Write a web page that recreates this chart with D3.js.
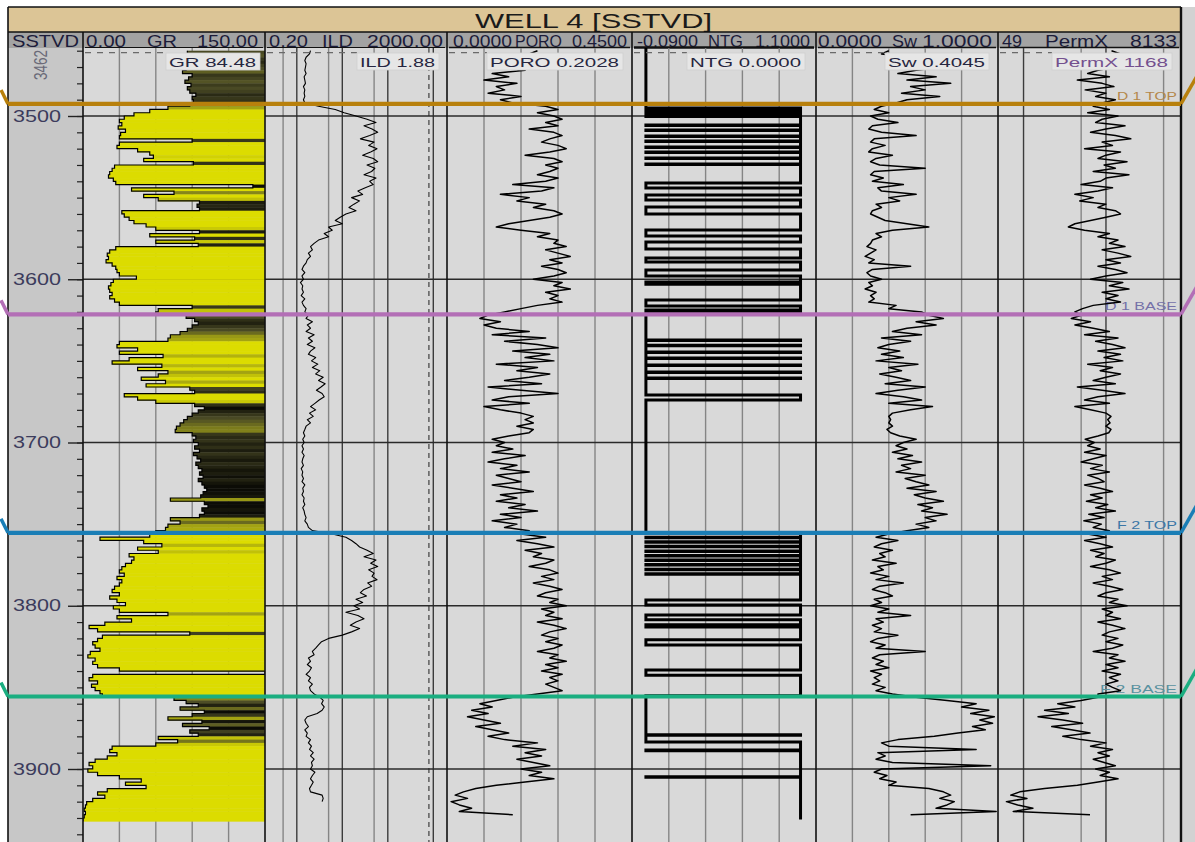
<!DOCTYPE html>
<html>
<head>
<meta charset="utf-8">
<script src="https://cdn.jsdelivr.net/npm/d3@7"></script>
<style>
  body { margin: 0; background: #fff; }
  svg { display: block; font-family: Arial, "Liberation Sans", sans-serif; }
</style>
</head>
<body>
<svg id="chart"></svg>
<script>
// ---- data ----
const title = "WELL 4 [SSTVD]";
const depthTicks = [3500, 3600, 3700, 3800, 3900];
const topDepthLabel = "3462";

// GR, every 2 m from 3460
const grStart = 3460, grStep = 2;
const grValues = [
  86, 84, 90, 93, 88, 85, 82, 90, 87, 84, 89, 86, 88, 93, 90, 91,
  88, 70, 55, 42, 34, 30, 32, 29, 35, 31, 30, 90, 30, 28, 45, 55,
  58, 50, 91, 26, 24, 22, 21, 25, 27, 140, 40, 75, 50, 62, 96, 94,
  96, 32, 34, 38, 42, 52, 60, 96, 55, 92, 60, 95, 27, 22, 20, 21,
  19, 24, 27, 28, 30, 44, 25, 23, 21, 22, 24, 22, 26, 30, 90, 62,
  60, 85, 92, 95, 90, 86, 80, 72, 70, 30, 28, 45, 30, 66, 38, 24,
  65, 45, 70, 62, 48, 68, 52, 88, 92, 34, 45, 60, 92, 100, 95, 90,
  86, 83, 80, 77, 76, 90, 93, 91, 95, 92, 96, 91, 94, 97, 93, 95,
  98, 96, 99, 95, 98, 100, 102, 99, 97, 72, 100, 103, 98, 100, 96, 72,
  80, 70, 68, 60, 55, 14, 50, 65, 45, 62, 38, 42, 40, 35, 32, 30,
  34, 28, 32, 30, 26, 24, 30, 22, 28, 35, 25, 30, 70, 28, 40, 18,
  5, 12, 88, 16, 12, 8, 10, 14, 6, 4, 10, 8, 12, 30, 150, 8,
  5, 12, 7, 10, 14, 16, 75, 85, 95, 80, 100, 90, 70, 98, 82, 104,
  88, 95, 62, 78, 60, 24, 22, 28, 20, 10, 5, 8, 4, 12, 30, 48,
  35, 52, 20, 12, 18, 8, 3, 2, 1, 2, 1, 0
];

// ILD, every 2 m from 3460
const ildStart = 3460, ildStep = 2;
const ildValues = [
  2.0, 1.9, 1.6, 1.5, 1.6, 1.55, 1.5, 1.6, 1.45, 1.5, 1.55, 1.4, 1.5, 1.45, 1.5, 1.4, 1.5,
  3, 7, 11,
  20, 35, 55, 30, 45, 60, 40, 25, 50, 38, 58, 42, 28, 48, 60, 35, 52, 44, 30, 55, 40, 48, 32,
  22, 28, 16, 24, 18, 14, 20, 12,
  9, 7, 10, 5, 6, 4, 5, 3,
  2.4, 2.0, 2.2, 1.8, 2.0, 1.7, 1.6,
  1.4, 1.3, 1.5, 1.3, 1.4, 1.2, 1.35, 1.3, 1.4, 1.25, 1.5, 1.3, 1.4, 1.6, 1.5,
  1.8, 1.6, 2.2, 1.7, 2.0, 1.6, 2.4, 1.8, 2.2, 1.7, 2.5, 2.0, 1.8, 2.6, 2.1, 2.9, 2.2, 3.2,
  2.6, 3.8, 3.0, 4.2, 3.4, 2.7, 3.6, 4.0, 3.1, 2.5, 2.0, 2.6, 1.9, 2.3, 1.7, 2.0, 1.6,
  1.5, 1.4, 1.5, 1.35, 1.45, 1.3, 1.4, 1.3, 1.45, 1.35, 1.3, 1.4, 1.25, 1.35, 1.3, 1.4,
  1.3, 1.5, 1.35, 1.4, 1.3, 1.45, 1.4, 1.5, 1.35, 1.45, 1.5, 1.6, 1.5, 1.7, 1.8, 2.2,
  6, 12, 16, 20, 24,
  35, 48, 30, 55, 42, 60, 38, 50, 45, 58, 36, 44, 30,
  25, 34, 20, 28, 18, 24, 12, 22, 30, 20, 15, 24, 16, 10,
  5, 3.5, 3.0, 2.6, 2.2, 2.4,
  1.8, 2.0, 1.7, 2.1, 1.9, 1.6, 2.0, 1.8, 2.2, 1.9, 2.0, 2.4,
  3.2, 3.8, 3.5, 4.0, 3.6, 2.8,
  1.7, 1.5, 1.6, 1.8, 1.5, 1.7, 1.6, 2.0, 1.8, 2.1, 1.9, 2.3, 2.0, 2.4, 2.1, 2.2, 2.0, 2.5,
  2.2, 2.0, 2.3, 2.1,
  1.9, 2.0, 3.6, 3.8, 3.6
];

// PORO, Sw, PermX, every 2 m from 3460
const logStart = 3460, logStep = 2;
const poroValues = [
  0.22, 0.20, 0.14, 0.10, 0.16, 0.12, 0.19, 0.11, 0.15, 0.09, 0.17, 0.12, 0.14, 0.10, 0.18, 0.13, 0.16,
  0.24, 0.27, 0.22, 0.26, 0.28, 0.24, 0.27, 0.20, 0.26, 0.28, 0.25, 0.23, 0.27, 0.29, 0.25, 0.19,
  0.26, 0.28, 0.24, 0.27, 0.25, 0.22, 0.27, 0.24, 0.16, 0.26, 0.23, 0.13, 0.20, 0.17, 0.24,
  0.21, 0.26, 0.28, 0.25, 0.20, 0.15, 0.12, 0.18, 0.25, 0.22, 0.27,
  0.26, 0.29, 0.24, 0.27, 0.30, 0.25, 0.28, 0.23, 0.27, 0.29, 0.26, 0.21, 0.28, 0.26, 0.30, 0.24,
  0.27, 0.25, 0.28, 0.22, 0.18, 0.14,
  0.10, 0.08, 0.13, 0.09, 0.12, 0.20, 0.11, 0.24, 0.14, 0.22, 0.27, 0.16, 0.25, 0.19, 0.26, 0.12,
  0.22, 0.17, 0.25, 0.20, 0.14, 0.23, 0.10, 0.18, 0.27, 0.15, 0.11, 0.20, 0.09, 0.13,
  0.18, 0.21, 0.19, 0.21, 0.17, 0.21, 0.20, 0.15, 0.11, 0.14,
  0.12, 0.16, 0.11, 0.19, 0.14, 0.10, 0.17, 0.13, 0.20, 0.12, 0.15, 0.18, 0.11, 0.16, 0.21, 0.13,
  0.17, 0.12, 0.19, 0.15, 0.22, 0.13, 0.18, 0.11, 0.17, 0.14, 0.20,
  0.18, 0.24, 0.17, 0.22, 0.26, 0.19, 0.23, 0.21, 0.26, 0.24, 0.20, 0.25, 0.27, 0.23, 0.26, 0.21,
  0.25, 0.28, 0.24, 0.22, 0.27, 0.25, 0.29, 0.23, 0.26, 0.24, 0.28, 0.22, 0.26, 0.29, 0.25, 0.23,
  0.27, 0.24, 0.28, 0.26, 0.22, 0.27, 0.25, 0.29, 0.24, 0.27, 0.23, 0.28, 0.25, 0.27, 0.24, 0.26,
  0.28, 0.22,
  0.16, 0.12, 0.08, 0.11, 0.06, 0.10, 0.05, 0.09, 0.13, 0.07, 0.11, 0.15, 0.10,
  0.14, 0.22, 0.16, 0.24, 0.19, 0.23, 0.17, 0.21, 0.25, 0.18, 0.23, 0.20, 0.26, 0.19, 0.12,
  0.07, 0.04, 0.02, 0.05, 0.01, 0.03, 0.06, 0.03, 0.16
];
const swValues = [
  0.40, 0.36, 0.52, 0.62, 0.48, 0.70, 0.55, 0.45, 0.66, 0.50, 0.74, 0.52, 0.60, 0.47, 0.68, 0.50, 0.44,
  0.36, 0.32, 0.40, 0.30, 0.34, 0.45, 0.31, 0.29, 0.36, 0.55, 0.32, 0.30, 0.38, 0.31, 0.29, 0.42,
  0.33, 0.30, 0.35, 0.60, 0.32, 0.30, 0.37, 0.31, 0.48, 0.34, 0.36, 0.55, 0.40, 0.46, 0.33,
  0.36, 0.31, 0.30, 0.34, 0.38, 0.50, 0.62, 0.42, 0.33, 0.36, 0.31,
  0.30, 0.28, 0.33, 0.30, 0.27, 0.32, 0.29, 0.52, 0.31, 0.28, 0.30, 0.36, 0.29, 0.31, 0.27, 0.33,
  0.30, 0.32, 0.29, 0.44, 0.40, 0.58,
  0.62, 0.70, 0.55, 0.66, 0.50, 0.42, 0.58, 0.36, 0.52, 0.40, 0.34, 0.46, 0.36, 0.48, 0.33, 0.56,
  0.40, 0.47, 0.35, 0.44, 0.52, 0.38, 0.60, 0.45, 0.33, 0.48, 0.58, 0.40, 0.64, 0.52,
  0.42, 0.40, 0.41, 0.40, 0.42, 0.39, 0.41, 0.46, 0.55, 0.48,
  0.44, 0.50, 0.42, 0.53, 0.45, 0.58, 0.47, 0.52, 0.44, 0.60, 0.49, 0.55, 0.62, 0.50, 0.66, 0.54,
  0.60, 0.70, 0.56, 0.64, 0.58, 0.72, 0.60, 0.66, 0.55, 0.62, 0.50,
  0.40, 0.33, 0.45, 0.36, 0.32, 0.42, 0.35, 0.38, 0.31, 0.44, 0.34, 0.37, 0.30, 0.40, 0.33, 0.48,
  0.35, 0.31, 0.38, 0.42, 0.32, 0.36, 0.30, 0.40, 0.34, 0.52, 0.33, 0.37, 0.31, 0.36, 0.32, 0.45,
  0.34, 0.30, 0.38, 0.33, 0.60, 0.35, 0.31, 0.37, 0.33, 0.40, 0.30, 0.36, 0.32, 0.35, 0.31, 0.38,
  0.33, 0.42,
  0.55, 0.72, 0.88, 0.80, 0.95, 0.85, 0.98, 0.90, 0.97, 0.86, 0.93, 0.78, 0.65,
  0.45, 0.36, 0.40, 0.88, 0.34, 0.38, 0.33, 0.42, 0.96, 0.36, 0.32, 0.39, 0.35, 0.44, 0.40,
  0.62, 0.70, 0.74, 0.68, 0.76, 0.72, 0.66, 0.99, 0.52
];
const permValues = [
  1168, 1500, 700, 1000, 520, 1300, 800, 600, 1100, 450, 900, 1250, 560, 1000, 750, 1300, 900,
  700, 1100, 600, 1400, 900, 750, 1700, 1000, 650, 1300, 2000, 900, 1200, 550, 1500, 1000,
  800, 1800, 950, 1300, 700, 1900, 1000, 850, 500, 1200, 800, 420, 700, 480, 1000,
  800, 1300, 1500, 1000, 650, 420, 350, 550, 1100, 800, 1400,
  1100, 1700, 900, 1400, 2000, 1000, 1500, 800, 1300, 1800, 1000, 650, 1600, 1100, 1900, 900,
  1400, 1000, 1500, 700, 520, 420,
  500, 380, 650, 420, 700, 1100, 550, 1400, 750, 1200, 1700, 800, 1500, 950, 1600, 600,
  1200, 850, 1500, 1000, 700, 1300, 450, 900, 1700, 800, 550, 1100, 420, 650,
  1000, 1150, 1050, 1120, 1000, 1150, 1080, 800, 560, 720,
  600, 850, 550, 1000, 700, 500, 900, 650, 1100, 600, 800, 950, 550, 850, 1200, 650,
  900, 580, 1050, 750, 1300, 620, 950, 540, 880, 700, 1100,
  600, 1000, 550, 850, 1200, 650, 950, 750, 1300, 1000, 650, 1100, 1500, 900, 1200, 700,
  1100, 1600, 1000, 800, 1400, 1100, 1800, 900, 1200, 1000, 1500, 800, 1200, 1700, 1100, 900,
  1400, 1000, 1600, 1200, 700, 1400, 1100, 1700, 1000, 1400, 900, 1500, 1100, 1400, 1000, 1200,
  1500, 800,
  800, 500, 260, 420, 180, 350, 150, 300, 520, 220, 380, 640, 300,
  500, 1000, 650, 1200, 800, 1100, 700, 950, 1300, 750, 1100, 850, 1400, 800, 450,
  180, 90, 70, 110, 62, 85, 130, 75, 640
];

// NTG = 1 intervals (top, base); 0 elsewhere
const ntgStart = 3458, ntgEnd = 3931;
const ntgSand = [
  [3495.1, 3495.9], [3496.4, 3497.2], [3497.7, 3498.5], [3499, 3499.8], [3500.3, 3505.5],
  [3505.8, 3508.6], [3508.9, 3512.3], [3512.6, 3515.3], [3515.6, 3519], [3519.3, 3522.1],
  [3522.4, 3525.7], [3526, 3529.4], [3529.7, 3541], [3544.1, 3548.4], [3551.5, 3555.7],
  [3560, 3569.8], [3573.5, 3577.2], [3581.5, 3587], [3589.4, 3594.3], [3598, 3601.7],
  [3603, 3612.7], [3616.4, 3618.8], [3619.4, 3620.7],
  [3637.2, 3637.5], [3640.5, 3640.8], [3644.6, 3644.9], [3648.2, 3648.5], [3652.5, 3652.8],
  [3656.8, 3657.1], [3660.5, 3660.8], [3670.9, 3674],
  [3755.5, 3758], [3758.3, 3760.8], [3761.1, 3763.6], [3763.9, 3766.4], [3766.7, 3769.2],
  [3769.5, 3772], [3772.3, 3774.8], [3775.1, 3777.6], [3777.9, 3780.4], [3780.7, 3796.5],
  [3799.5, 3805.6], [3808.6, 3811.7], [3813, 3820.9], [3824, 3839.4], [3842.5, 3855.2],
  [3879, 3879.3], [3883.5, 3888.4], [3888.8, 3904.7], [3905.1, 3931]
];

// formation tops
const formations = [
  { name: "D 1 TOP",  depth: 3492.6, color: "#b8800c", text: "#b4874a", len: 60 },
  { name: "D 1 BASE", depth: 3621.5, color: "#b36fb6", text: "#7470a8", len: 72 },
  { name: "F 2 TOP",  depth: 3755.3, color: "#1a7eb6", text: "#3a76a6", len: 60 },
  { name: "F 2 BASE", depth: 3855.6, color: "#1aae80", text: "#5a92a0", len: 77 }
];

// header labels (left, name, right) and cursor readouts
const headers = [
  ["0.00", "GR", "150.00"],
  ["0.20", "ILD", "2000.00"],
  ["0.0000", "PORO", "0.4500"],
  ["-0.0900", "NTG", "1.1000"],
  ["0.0000", "Sw", "1.0000"],
  ["49", "PermX", "8133"]
];
const readouts = ["GR 84.48", "ILD 1.88", "PORO 0.2028", "NTG 0.0000", "Sw 0.4045", "PermX 1168"];
const cursorDepth = 3461.2;

// ---- layout ----
const W = 1195, H = 842;
const frameL = 8, frameR = 1181, titleTop = 7, headTop = 32, plotTop = 48;
const trackEdges = [83, 265, 447, 632, 816, 998, 1181];

const svg = d3.select("#chart").attr("width", W).attr("height", H);

const y = d3.scaleLinear().domain([3500, 3900]).range([116, 769]);

const xs = [
  d3.scaleLinear().domain([0, 150]).range([trackEdges[0], trackEdges[1]]),
  d3.scaleLog().domain([0.2, 2000]).range([trackEdges[1], trackEdges[2]]),
  d3.scaleLinear().domain([0, 0.45]).range([trackEdges[2], trackEdges[3]]),
  d3.scaleLinear().domain([-0.09, 1.1]).range([trackEdges[3], trackEdges[4]]),
  d3.scaleLinear().domain([0, 1]).range([trackEdges[4], trackEdges[5]]),
  d3.scaleLog().domain([49, 8133]).range([trackEdges[5], trackEdges[6]])
];
const curveWidths = [1.2, 1.1, 1.5, 3, 1.5, 1.5];

// backgrounds
svg.append("rect").attr("x", frameR).attr("y", titleTop).attr("width", W - frameR).attr("height", H)
  .attr("fill", "#d2d2d2");
svg.append("rect").attr("x", frameL).attr("y", plotTop).attr("width", trackEdges[0] - frameL)
  .attr("height", H - plotTop).attr("fill", "#c7c7c7");
svg.append("rect").attr("x", trackEdges[0]).attr("y", plotTop).attr("width", frameR - trackEdges[0])
  .attr("height", H - plotTop).attr("fill", "#d9d9d9");

// title band
svg.append("rect").attr("x", frameL).attr("y", titleTop).attr("width", frameR - frameL)
  .attr("height", headTop - titleTop).attr("fill", "#dcc596");
svg.append("text").attr("x", 475).attr("y", 28).attr("font-size", 21)
  .attr("textLength", 237).attr("lengthAdjust", "spacingAndGlyphs")
  .attr("fill", "#1a1a1a").text(title);

// header row
svg.append("rect").attr("x", frameL).attr("y", headTop).attr("width", frameR - frameL)
  .attr("height", plotTop - headTop).attr("fill", "#a3a3a3");

function fitText(g, x, yy, txt, len, size, color) {
  g.append("text").attr("x", x).attr("y", yy).attr("font-size", size)
    .attr("textLength", len).attr("lengthAdjust", "spacingAndGlyphs")
    .attr("fill", color).text(txt);
}
const head = svg.append("g");
fitText(head, 12, 46.5, "SSTVD", 67, 17, "#1c1c3a");
const headPos = [
  [[86, 40], [147, 30], [197, 61]],
  [[269, 39], [322, 31], [367, 76]],
  [[453, 59], [515, 47], [572, 55]],
  [[637, 61], [708, 35], [755, 55]],
  [[818, 64], [892, 25], [922, 70]],
  [[1002, 20], [1045, 63], [1130, 47]]
];
headers.forEach((h, i) => {
  h.forEach((t, j) => fitText(head, headPos[i][j][0], 46.5, t, headPos[i][j][1], 17, "#1c1c3a"));
  // underline in the curve style
  head.append("line").attr("x1", trackEdges[i] + 2).attr("x2", trackEdges[i + 1] - 2)
    .attr("y1", plotTop - 0.5).attr("y2", plotTop - 0.5)
    .attr("stroke", "#111").attr("stroke-width", Math.min(curveWidths[i], 2.5));
});

// grids
const grid = svg.append("g");
const gridSpec = [
  { light: d3.range(1, 5).map(k => k * 30), dark: [] },
  { light: [0.5, 5, 50], dark: [1, 10, 100, 1000] },
  { light: d3.range(1, 5).map(k => k * 0.09), dark: [] },
  { light: d3.range(1, 5).map(k => -0.09 + k * 0.238), dark: [] },
  { light: d3.range(1, 5).map(k => k * 0.2), dark: [] },
  { light: [500, 5000], dark: [100, 1000] }
];
gridSpec.forEach((s, i) => {
  s.light.forEach(v => grid.append("line").attr("x1", xs[i](v)).attr("x2", xs[i](v))
    .attr("y1", plotTop).attr("y2", H).attr("stroke", "#858585").attr("stroke-width", 1.4));
  s.dark.forEach(v => grid.append("line").attr("x1", xs[i](v)).attr("x2", xs[i](v))
    .attr("y1", plotTop).attr("y2", H).attr("stroke", "#3c3c3c").attr("stroke-width", 1.4));
});
// ILD cutoff (dashed)
grid.append("line").attr("x1", xs[1](800)).attr("x2", xs[1](800)).attr("y1", plotTop).attr("y2", H)
  .attr("stroke", "#555").attr("stroke-width", 1.4).attr("stroke-dasharray", "5,4");
depthTicks.forEach(d => grid.append("line").attr("x1", trackEdges[0]).attr("x2", frameR)
  .attr("y1", y(d)).attr("y2", y(d)).attr("stroke", "#2a2a2a").attr("stroke-width", 1.5));

// formation labels (under curves)
const fLabels = svg.append("g");
formations.forEach(f => {
  fLabels.append("text").attr("x", 1177).attr("y", y(f.depth) - 4).attr("text-anchor", "end")
    .attr("font-size", 11).attr("fill", f.text)
    .attr("textLength", f.len).attr("lengthAdjust", "spacingAndGlyphs")
    .text(f.name);
});

// depth track axis
const depthG = svg.append("g").attr("transform", `translate(${trackEdges[0]},0)`);
depthG.call(d3.axisLeft(y).tickValues(d3.range(3460, 3950, 10)).tickSize(6).tickFormat(""))
  .call(g => g.select(".domain").remove())
  .call(g => g.selectAll("line").attr("stroke", "#222").attr("stroke-width", 1.2));
const majorG = svg.append("g").attr("transform", `translate(${trackEdges[0]},0)`);
majorG.call(d3.axisLeft(y).tickValues(depthTicks).tickSize(15).tickPadding(7).tickFormat(d3.format("d")))
  .call(g => g.select(".domain").remove())
  .call(g => g.selectAll("line").attr("stroke", "#222").attr("stroke-width", 1.4))
  .call(g => g.selectAll("text").attr("font-size", 16).attr("fill", "#3c3c5c")
    .attr("font-family", "Arial, sans-serif")
    .attr("textLength", 48).attr("lengthAdjust", "spacingAndGlyphs"));
svg.append("text").attr("transform", `translate(47,65) rotate(-90)`).attr("text-anchor", "middle")
  .attr("font-size", 18).attr("fill", "#6a6a78")
  .attr("textLength", 30).attr("lengthAdjust", "spacingAndGlyphs").text(topDepthLabel);

// clip paths per track
const defs = svg.append("defs");
for (let i = 0; i < 6; i++) {
  defs.append("clipPath").attr("id", "clip" + i).append("rect")
    .attr("x", trackEdges[i]).attr("y", plotTop)
    .attr("width", trackEdges[i + 1] - trackEdges[i]).attr("height", H - plotTop);
}

// cursor readouts
const cur = svg.append("g");
const boxPos = [[166, 94], [357, 82], [487, 136], [687, 118], [885, 104], [1052, 120]];
readouts.forEach((r, i) => {
  cur.append("line").attr("x1", trackEdges[i] + 2).attr("x2", boxPos[i][0])
    .attr("y1", y(cursorDepth)).attr("y2", y(cursorDepth))
    .attr("stroke", "#6a6a6a").attr("stroke-width", 1.2).attr("stroke-dasharray", "6,6");
});

const toRows = (values, start, step) => values.map((v, i) => ({ d: start + i * step, v }));
const logLine = x => d3.line().x(p => x(p.v)).y(p => y(p.d));

// GR: stepped curve, each interval filled to the right in a colour set by GR
const grColor = d3.scaleLinear().domain([0, 55, 70, 85, 100])
  .range(["#dcdc00", "#dcdc00", "#a3a312", "#4d4d26", "#0c0c06"]).clamp(true);
const grRows = toRows(grValues, grStart, grStep);
const grG = svg.append("g").attr("clip-path", "url(#clip0)");
grG.selectAll("rect").data(grRows).join("rect")
  .attr("x", p => xs[0](p.v))
  .attr("y", p => y(p.d))
  .attr("width", p => trackEdges[1] - xs[0](p.v))
  .attr("height", y(grStart + grStep) - y(grStart) + 0.4)
  .attr("fill", p => grColor(p.v));
const grSteps = grRows.concat([{ d: grStart + grRows.length * grStep, v: grValues[grValues.length - 1] }]);
grG.append("path").attr("d", logLine(xs[0]).curve(d3.curveStepBefore)(grSteps))
  .attr("fill", "none").attr("stroke", "#000").attr("stroke-width", curveWidths[0]);

// ILD, PORO, Sw, PermX
[[1, ildValues, ildStart, ildStep], [2, poroValues, logStart, logStep],
 [4, swValues, logStart, logStep], [5, permValues, logStart, logStep]].forEach(([i, vals, s, st]) => {
  svg.append("g").attr("clip-path", `url(#clip${i})`).append("path")
    .attr("d", logLine(xs[i])(toRows(vals, s, st)))
    .attr("fill", "none").attr("stroke", "#000").attr("stroke-width", curveWidths[i])
    .attr("stroke-linejoin", "round");
});

// NTG step line
const ntgPts = [[xs[3](0), y(ntgStart)]];
ntgSand.forEach(([t, b]) => {
  ntgPts.push([xs[3](0), y(t)], [xs[3](1), y(t)], [xs[3](1), y(Math.min(b, ntgEnd))]);
  if (b < ntgEnd) ntgPts.push([xs[3](0), y(b)]);
});
svg.append("g").attr("clip-path", "url(#clip3)").append("path")
  .attr("d", d3.line()(ntgPts)).attr("fill", "none").attr("stroke", "#000")
  .attr("stroke-width", curveWidths[3]).attr("stroke-linejoin", "miter");

// readout boxes on top
readouts.forEach((r, i) => {
  cur.append("rect").attr("x", boxPos[i][0]).attr("y", 53).attr("width", boxPos[i][1]).attr("height", 17)
    .attr("fill", "#e6e6e6").attr("stroke", "#cfcfcf").attr("stroke-width", 0.8);
  fitText(cur, boxPos[i][0] + 3, 66.5, r, boxPos[i][1] - 7, 13, i === 5 ? "#74508e" : "#262640");
});
cur.raise();

// track borders and frame
const borders = svg.append("g");
trackEdges.forEach(xx => borders.append("line").attr("x1", xx).attr("x2", xx)
  .attr("y1", headTop).attr("y2", H).attr("stroke", "#111").attr("stroke-width", 1.6));
borders.append("line").attr("x1", frameL).attr("x2", frameL).attr("y1", titleTop).attr("y2", H)
  .attr("stroke", "#111").attr("stroke-width", 1.6);
borders.append("line").attr("x1", frameR).attr("x2", frameR).attr("y1", titleTop).attr("y2", H)
  .attr("stroke", "#111").attr("stroke-width", 2.4);
[titleTop, headTop].forEach(yy => borders.append("line").attr("x1", frameL).attr("x2", frameR)
  .attr("y1", yy).attr("y2", yy).attr("stroke", "#111").attr("stroke-width", 1.4));

// formation lines over the logs, with correlation stubs
const fLines = svg.append("g");
formations.forEach(f => {
  const yy = y(f.depth);
  fLines.append("line").attr("x1", frameL).attr("x2", frameR).attr("y1", yy).attr("y2", yy)
    .attr("stroke", f.color).attr("stroke-width", 4.2);
  fLines.append("line").attr("x1", frameR).attr("x2", W + 2).attr("y1", yy).attr("y2", yy - 28)
    .attr("stroke", f.color).attr("stroke-width", 3.5);
  fLines.append("line").attr("x1", 1).attr("x2", frameL).attr("y1", yy - 14).attr("y2", yy)
    .attr("stroke", f.color).attr("stroke-width", 3.5);
});
</script>
</body>
</html>
